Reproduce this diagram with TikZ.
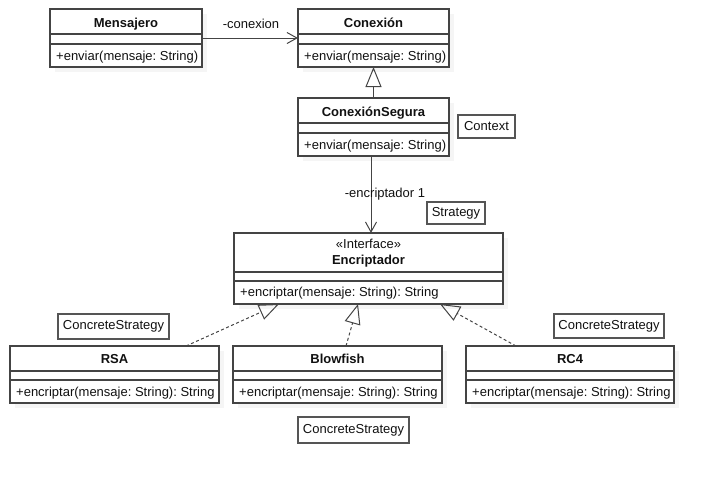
\documentclass[tikz,border=0pt]{standalone}
\usepackage{fontspec}
\setmainfont{Liberation Sans}
\usetikzlibrary{arrows.meta,shadows}
\definecolor{linecol}{HTML}{444444}
\definecolor{notecol}{HTML}{555555}
\definecolor{txtcol}{HTML}{111111}
\frenchspacing
\begin{document}
\begin{tikzpicture}[x=1pt,y=-1pt, font=\fontsize{13}{15}\selectfont, text=txtcol,
  classbox/.style={draw=linecol, line width=1.3pt, fill=white, inner sep=0pt, outer sep=0pt,
    drop shadow={shadow xshift=5pt, shadow yshift=-5pt, fill=black!4, opacity=1}},
  sepline/.style={draw=linecol, line width=1.3pt},
  ttl/.style={font=\fontsize{13}{15}\selectfont\bfseries, inner sep=0pt, anchor=base},
  stereo/.style={inner sep=0pt, anchor=base},
  mth/.style={anchor=base west, inner sep=0pt},
  notebox/.style={draw=notecol, line width=1.3pt, fill=white, inner sep=0pt, outer sep=0pt},
  assoc/.style={draw=linecol, line width=1pt, -{Straight Barb[length=10pt,width=11pt]}},
  gen/.style={draw=linecol, line width=1pt, -{Triangle[open,length=20pt,width=16pt]}},
  real/.style={draw=linecol, line width=1pt, dash pattern=on 3pt off 2.5pt, -{Triangle[open,length=20pt,width=16pt]}},
  lbl/.style={inner sep=1pt}
]
\useasboundingbox (0,0) rectangle (715,483);

% --- classes ---
\node[classbox, minimum width=152pt, minimum height=58pt] (mens) at (126,38) {};
\draw[sepline] (mens.west |- 0,34) -- (mens.east |- 0,34);
\draw[sepline] (mens.west |- 0,44) -- (mens.east |- 0,44);
\node[ttl] (mensT) at (126,27) {Mensajero};
\node[mth] (mensM) at (56,60) {+enviar(mensaje: String)};

\node[classbox, minimum width=151pt, minimum height=58pt] (con) at (373.5,38) {};
\draw[sepline] (con.west |- 0,34) -- (con.east |- 0,34);
\draw[sepline] (con.west |- 0,44) -- (con.east |- 0,44);
\node[ttl] (conT) at (373.5,27) {Conexión};
\node[mth] (conM) at (304,60) {+enviar(mensaje: String)};

\node[classbox, minimum width=151pt, minimum height=58pt] (cs) at (373.5,127) {};
\draw[sepline] (cs.west |- 0,123) -- (cs.east |- 0,123);
\draw[sepline] (cs.west |- 0,133) -- (cs.east |- 0,133);
\node[ttl] (csT) at (373.5,116) {ConexiónSegura};
\node[mth] (csM) at (304,149) {+enviar(mensaje: String)};

\node[classbox, minimum width=269pt, minimum height=71pt] (enc) at (368.5,268.5) {};
\draw[sepline] (enc.west |- 0,272) -- (enc.east |- 0,272);
\draw[sepline] (enc.west |- 0,281) -- (enc.east |- 0,281);
\node[stereo] (encS) at (368.5,248.5) {«Interface»};
\node[ttl] (encT) at (368.5,264) {Encriptador};
\node[mth] (encM) at (240,296.5) {+encriptar(mensaje: String): String};

\node[classbox, minimum width=209pt, minimum height=57pt] (rsa) at (114.5,374.5) {};
\draw[sepline] (rsa.west |- 0,371) -- (rsa.east |- 0,371);
\draw[sepline] (rsa.west |- 0,380) -- (rsa.east |- 0,380);
\node[ttl] (rsaT) at (114.5,363.5) {RSA};
\node[mth] (rsaM) at (16,396) {+encriptar(mensaje: String): String};

\node[classbox, minimum width=209pt, minimum height=57pt] (blow) at (337.5,374.5) {};
\draw[sepline] (blow.west |- 0,371) -- (blow.east |- 0,371);
\draw[sepline] (blow.west |- 0,380) -- (blow.east |- 0,380);
\node[ttl] (blowT) at (337.5,363.5) {Blowfish};
\node[mth] (blowM) at (239,396) {+encriptar(mensaje: String): String};

\node[classbox, minimum width=208pt, minimum height=57pt] (rc) at (570,374.5) {};
\draw[sepline] (rc.west |- 0,371) -- (rc.east |- 0,371);
\draw[sepline] (rc.west |- 0,380) -- (rc.east |- 0,380);
\node[ttl] (rcT) at (570,363.5) {RC4};
\node[mth] (rcM) at (472,396) {+encriptar(mensaje: String): String};

% --- notes ---
\node[notebox, minimum width=57pt, minimum height=23pt] (nContext) at (486.5,126.5) {Context};
\node[notebox, minimum width=58pt, minimum height=22pt] (nStrategy) at (456,213) {Strategy};
\node[notebox, minimum width=111pt, minimum height=25pt] (nCS1) at (113.5,326.5) {ConcreteStrategy};
\node[notebox, minimum width=110pt, minimum height=24pt] (nCS2) at (609,326) {ConcreteStrategy};
\node[notebox, minimum width=111pt, minimum height=26pt] (nCS3) at (353.5,430) {ConcreteStrategy};

% --- connectors ---
\draw[assoc] (mens) -- (con);
\node[lbl] (lconex) at (251,23.5) {-conexion};

\draw[gen] (cs.north) -- (con.south);

\draw[assoc] ([xshift=-2.5pt]cs.south) -- ([xshift=2.5pt]enc.north);
\node[lbl] (lenc) at (385,194) {-encriptador 1};

\draw[real] ([xshift=71.5pt]rsa.north) -- ([xshift=-89.5pt]enc.south);
\draw[real] ([xshift=8.5pt]blow.north) -- ([xshift=-10.5pt]enc.south);
\draw[real] ([xshift=-54pt]rc.north) -- ([xshift=71.5pt]enc.south);
\end{tikzpicture}
\end{document}
